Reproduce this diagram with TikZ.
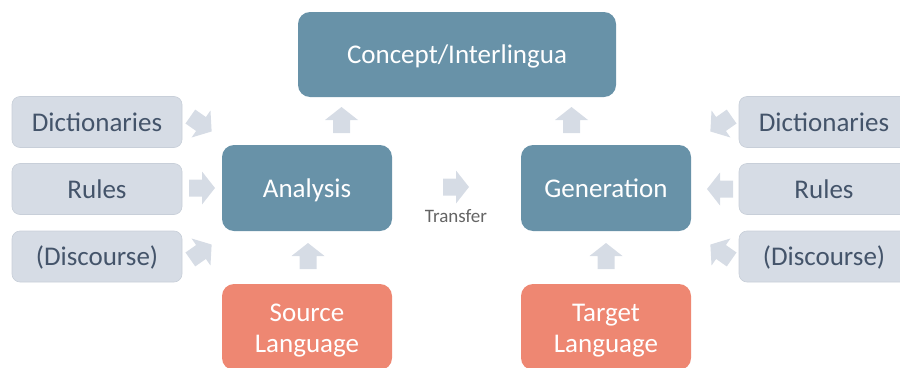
\documentclass[tikz,border=0pt]{standalone}
\usepackage{fontspec}
\setmainfont{Carlito}
\definecolor{mainbox}{RGB}{104,146,168}
\definecolor{langbox}{RGB}{238,135,114}
\definecolor{sidebox}{RGB}{214,220,229}
\definecolor{sideedge}{RGB}{200,207,217}
\definecolor{sidetext}{RGB}{68,84,106}
\definecolor{arrowfill}{RGB}{214,220,229}
\definecolor{labeltext}{RGB}{100,100,100}
\begin{document}
\begin{tikzpicture}[x=1pt,y=-1pt,
  bigtext/.style={font=\fontsize{27}{31}\selectfont},
  oneline/.style={text height=18pt,text depth=0pt},
  stagebox/.style={bigtext,rectangle,rounded corners=12pt,fill=mainbox,text=white,
    minimum width=170pt,minimum height=86pt,inner sep=0pt,align=center},
  langnode/.style={stagebox,fill=langbox},
  langtext/.style={bigtext,text=white,inner sep=0pt,align=center},
  resource/.style={bigtext,oneline,rectangle,rounded corners=8pt,fill=sidebox,draw=sideedge,line width=0.6pt,
    text=sidetext,minimum width=170pt,minimum height=51pt,inner sep=0pt},
  blockarrow/.pic={\fill[arrowfill] (-13,-8.5) -- (0,-8.5) -- (0,-16.5) -- (13,0)
    -- (0,16.5) -- (0,8.5) -- (-13,8.5) -- cycle;}
]
\useasboundingbox (0,0) rectangle (900,367);
\clip (0,0) rectangle (900,367);

% central stages
\node[stagebox,oneline,minimum width=318pt,minimum height=85pt] (concept) at (457,54.5) {Concept/Interlingua};
\node[stagebox,oneline] (analysis) at (307,188) {Analysis};
\node[stagebox,oneline] (generation) at (606,188) {Generation};
\node[langnode] (source) at (307,327) {};
\node[langnode] (target) at (606,327) {};
\node[langtext] (sourcetext) at ([yshift=-3.5pt]source.center) {Source\\Language};
\node[langtext] (targettext) at ([yshift=-3.5pt]target.center) {Target\\Language};

% knowledge sources, left and right
\node[resource] (dictL) at (97,122) {Dictionaries};
\node[resource] (rulesL) at (97,189) {Rules};
\node[resource] (discL) at (97,256.5) {(Discourse)};
\node[resource] (dictR) at (824,122) {Dictionaries};
\node[resource] (rulesR) at (824,189) {Rules};
\node[resource] (discR) at (824,256.5) {(Discourse)};

% flow arrows
\pic[rotate=90] at (341.5,120) {blockarrow};
\pic[rotate=90] at (571.5,120) {blockarrow};
\pic[rotate=90] at (308,256) {blockarrow};
\pic[rotate=90] at (606,256) {blockarrow};
\pic at (456,187) {blockarrow};
\node[font=\fontsize{19}{22}\selectfont,text=labeltext,inner sep=0pt] (transfer) at (456,216) {Transfer};

\pic[rotate=-35] at (201,124) {blockarrow};
\pic at (202,188) {blockarrow};
\pic[rotate=35] at (201,252) {blockarrow};
\pic[rotate=215] at (721,124) {blockarrow};
\pic[rotate=180] at (720,189) {blockarrow};
\pic[rotate=145] at (721,252) {blockarrow};
\end{tikzpicture}
\end{document}
